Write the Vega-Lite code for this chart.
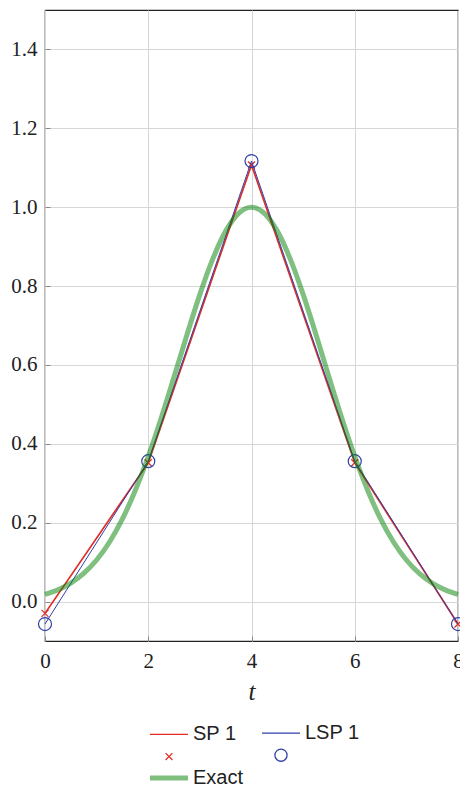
{
  "$schema": "https://vega.github.io/schema/vega-lite/v6.json",
  "autosize": {"type": "none"},
  "padding": {"left": 45, "top": 10, "right": 2, "bottom": 147},
  "width": 413,
  "height": 631,
  "background": "white",
  "config": {
    "view": {"stroke": "#222222", "strokeWidth": 1.2},
    "axis": {
      "domain": false,
      "grid": true,
      "gridColor": "#d6d6d6",
      "gridWidth": 1,
      "ticks": true,
      "tickSize": -5,
      "tickColor": "#888888",
      "tickWidth": 1,
      "labelFont": "Liberation Serif",
      "labelFontSize": 21,
      "labelColor": "#222222",
      "titleFont": "Liberation Serif",
      "titleColor": "#222222"
    }
  },
  "datasets": {
    "series": [
      {"series": "SP 1", "t": 0, "y": -0.03},
      {"series": "SP 1", "t": 2, "y": 0.352},
      {"series": "SP 1", "t": 4, "y": 1.107},
      {"series": "SP 1", "t": 6, "y": 0.352},
      {"series": "SP 1", "t": 8, "y": -0.057},
      {"series": "LSP 1", "t": 0, "y": -0.057},
      {"series": "LSP 1", "t": 2, "y": 0.356},
      {"series": "LSP 1", "t": 4, "y": 1.117},
      {"series": "LSP 1", "t": 6, "y": 0.356},
      {"series": "LSP 1", "t": 8, "y": -0.057},
      {"series": "Exact", "t": 0, "y": 0.01832},
      {"series": "Exact", "t": 0.25, "y": 0.02973},
      {"series": "Exact", "t": 0.5, "y": 0.04677},
      {"series": "Exact", "t": 0.75, "y": 0.07132},
      {"series": "Exact", "t": 1, "y": 0.1054},
      {"series": "Exact", "t": 1.25, "y": 0.15097},
      {"series": "Exact", "t": 1.5, "y": 0.20961},
      {"series": "Exact", "t": 1.75, "y": 0.28206},
      {"series": "Exact", "t": 2, "y": 0.36788},
      {"series": "Exact", "t": 2.25, "y": 0.46505},
      {"series": "Exact", "t": 2.5, "y": 0.56978},
      {"series": "Exact", "t": 2.75, "y": 0.67663},
      {"series": "Exact", "t": 3, "y": 0.7788},
      {"series": "Exact", "t": 3.25, "y": 0.86882},
      {"series": "Exact", "t": 3.5, "y": 0.93941},
      {"series": "Exact", "t": 3.75, "y": 0.9845},
      {"series": "Exact", "t": 4, "y": 1.0},
      {"series": "Exact", "t": 4.25, "y": 0.9845},
      {"series": "Exact", "t": 4.5, "y": 0.93941},
      {"series": "Exact", "t": 4.75, "y": 0.86882},
      {"series": "Exact", "t": 5, "y": 0.7788},
      {"series": "Exact", "t": 5.25, "y": 0.67663},
      {"series": "Exact", "t": 5.5, "y": 0.56978},
      {"series": "Exact", "t": 5.75, "y": 0.46505},
      {"series": "Exact", "t": 6, "y": 0.36788},
      {"series": "Exact", "t": 6.25, "y": 0.28206},
      {"series": "Exact", "t": 6.5, "y": 0.20961},
      {"series": "Exact", "t": 6.75, "y": 0.15097},
      {"series": "Exact", "t": 7, "y": 0.1054},
      {"series": "Exact", "t": 7.25, "y": 0.07132},
      {"series": "Exact", "t": 7.5, "y": 0.04677},
      {"series": "Exact", "t": 7.75, "y": 0.02973},
      {"series": "Exact", "t": 8, "y": 0.01832}
    ]
  },
  "data": {"name": "series"},
  "encoding": {
    "x": {
      "field": "t", "type": "quantitative",
      "scale": {"domain": [0, 8], "nice": false, "zero": false},
      "axis": {
        "values": [0, 2, 4, 6, 8],
        "title": "t",
        "titleFontStyle": "italic",
        "titleFontWeight": "normal",
        "titleFontSize": 25,
        "titlePadding": 8,
        "labelPadding": 14,
        "labelFlush": false
      }
    },
    "y": {
      "field": "y", "type": "quantitative",
      "scale": {"domain": [-0.1, 1.5], "nice": false, "zero": false},
      "axis": {
        "values": [0, 0.2, 0.4, 0.6, 0.8, 1.0, 1.2, 1.4],
        "format": ".1f",
        "title": null,
        "labelPadding": 13
      }
    }
  },
  "layer": [
    {
      "transform": [{"filter": "datum.series === 'SP 1'"}],
      "mark": {"type": "line", "strokeWidth": 1.7},
      "encoding": {
        "color": {
          "field": "series", "type": "nominal",
          "scale": {"domain": ["SP 1", "LSP 1", "Exact"], "range": ["#e12d26", "#3040a8", "#008000"]},
          "legend": {
            "orient": "none",
            "legendX": 114,
            "legendY": 713,
            "title": null,
            "columns": 2,
            "direction": "horizontal",
            "columnPadding": 15,
            "rowPadding": 4,
            "labelFont": "Liberation Sans",
            "labelFontSize": 20,
            "labelColor": "#222222",
            "labelOffset": 14,
            "symbolSize": 1444,
            "symbolType": "stroke",
            "encode": {
              "symbols": {
                "update": {
                  "shape": {"signal": "datum.value === 'SP 1' ? 'M-1,0H1M-0.18,0.98L0.18,1.34M-0.18,1.34L0.18,0.98' : (datum.value === 'LSP 1' ? 'M-1,0H1M-0.32,1.16C-0.32,0.9833 -0.1767,0.84 0,0.84C0.1767,0.84 0.32,0.9833 0.32,1.16C0.32,1.3367 0.1767,1.48 0,1.48C-0.1767,1.48 -0.32,1.3367 -0.32,1.16Z' : 'M-1,0H1')"},
                  "strokeWidth": {"signal": "datum.value === 'Exact' ? 5 : 1.3"},
                  "opacity": {"signal": "datum.value === 'Exact' ? 0.5 : 1"},
                  "fill": {"value": "transparent"}
                }
              }
            }
          }
        }
      }
    },
    {
      "transform": [{"filter": "datum.series === 'SP 1'"}],
      "mark": {"type": "point", "shape": "M-1,-1L1,1M-1,1L1,-1", "size": 49, "filled": false, "color": "#e12d26", "strokeWidth": 1.2, "opacity": 1}
    },
    {
      "transform": [{"filter": "datum.series === 'LSP 1'"}],
      "mark": {"type": "line", "strokeWidth": 1},
      "encoding": {"color": {"field": "series", "type": "nominal"}}
    },
    {
      "transform": [{"filter": "datum.series === 'LSP 1'"}],
      "mark": {"type": "point", "shape": "circle", "size": 169, "filled": false, "color": "#3040a8", "strokeWidth": 1.2, "opacity": 1}
    },
    {
      "transform": [{"filter": "datum.series === 'Exact'"}],
      "mark": {"type": "line", "strokeWidth": 5, "opacity": 0.5, "interpolate": "monotone"},
      "encoding": {"color": {"field": "series", "type": "nominal"}}
    }
  ]
}
